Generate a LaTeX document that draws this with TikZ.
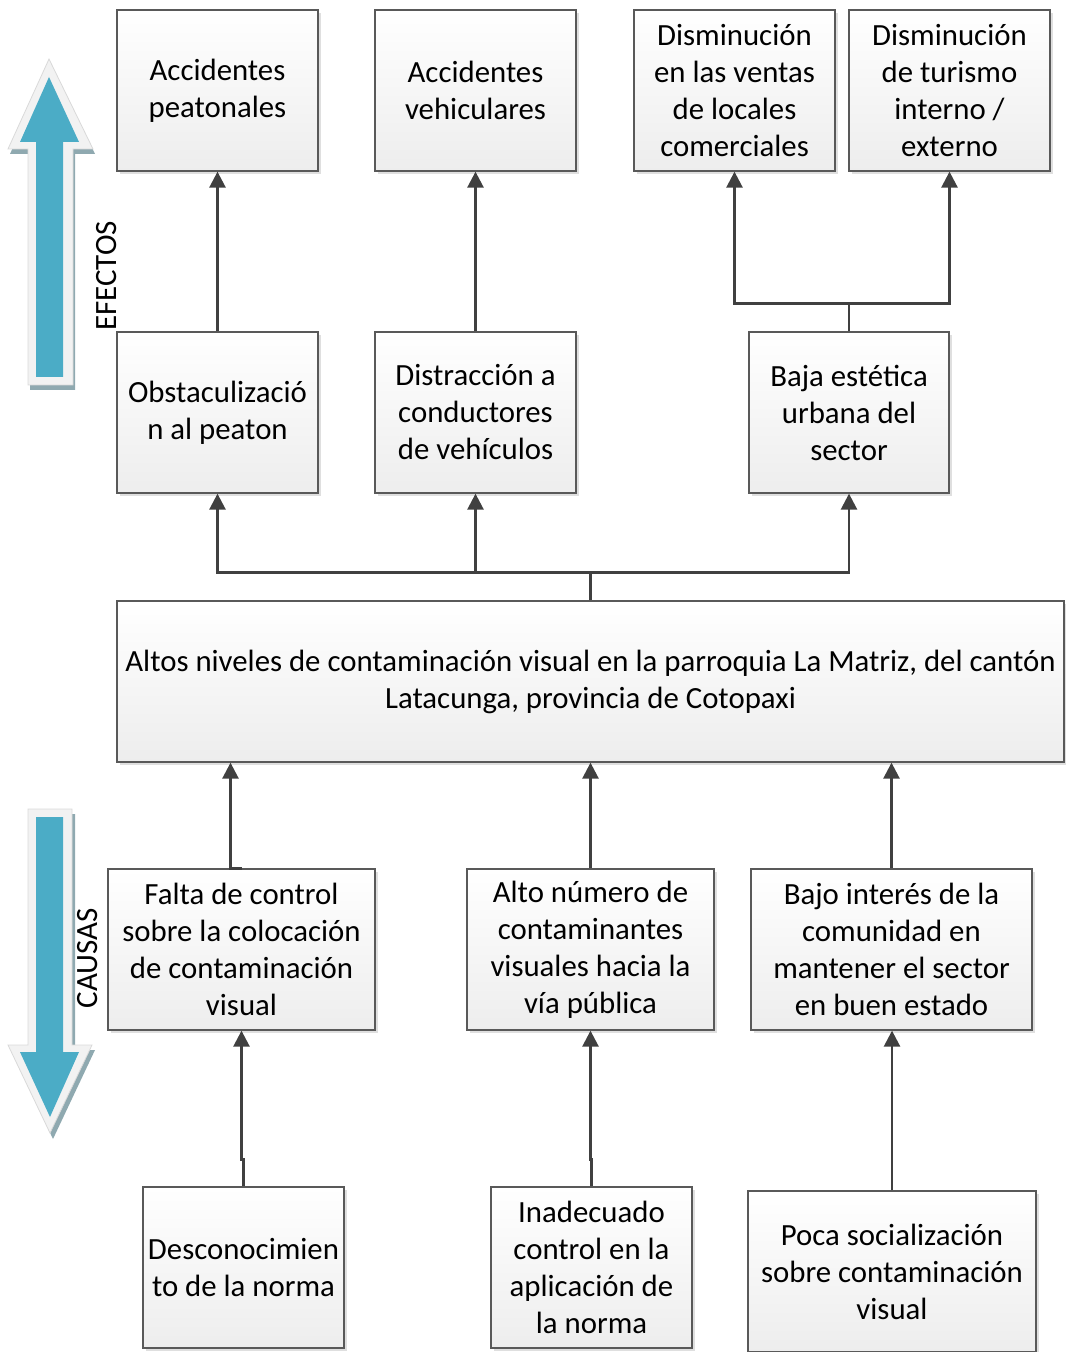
\documentclass[tikz,border=0pt]{standalone}
\usepackage{fontspec}
\setmainfont{Carlito}
\usetikzlibrary{arrows.meta,shadows}
\definecolor{linegray}{HTML}{404040}
\definecolor{boxline}{HTML}{595959}
\definecolor{aqua}{HTML}{4BACC6}
\definecolor{aquashadow}{HTML}{8FA9B0}
\definecolor{arrowrim}{HTML}{F2F2F2}
\begin{document}
\begin{tikzpicture}[x=0.5pt, y=-0.5pt,
    box/.style={draw=boxline, line width=0.65pt, rectangle, align=center, inner sep=2pt,
        top color=white, bottom color=black!7, minimum height=80.5pt,
        drop shadow={shadow xshift=1.5pt, shadow yshift=-1.5pt, fill=black!25, opacity=0.5},
        font=\fontsize{15.4pt}{18.5pt}\selectfont},
    link/.style={draw=linegray, line width=1.3pt},
    arr/.style={link, -{Triangle[length=8pt, width=8pt]}},
    side/.style={rotate=90, font=\fontsize{15.5pt}{17pt}\selectfont}]

    \useasboundingbox (0,0) rectangle (1065,1352);

    % Big arrows
    \fill[aquashadow] (51,64) -- (95,154) -- (75,154) -- (75,390) -- (30,390) -- (30,154) -- (10,154) -- cycle;
    \filldraw[fill=arrowrim, draw=black!15, line width=0.4pt] (49,59) -- (93,149) -- (73,149) -- (73,385) -- (28,385) -- (28,149) -- (8,149) -- cycle;
    \fill[aqua] (49,77) -- (79,142) -- (63,142) -- (63,377) -- (36,377) -- (36,142) -- (20,142) -- cycle;
    \fill[aquashadow] (31,814) -- (75,814) -- (75,1050) -- (95,1050) -- (53,1139) -- (11,1050) -- (31,1050) -- cycle;
    \filldraw[fill=arrowrim, draw=black!15, line width=0.4pt] (28,809) -- (72,809) -- (72,1045) -- (92,1045) -- (50,1133) -- (8,1045) -- (28,1045) -- cycle;
    \fill[aqua] (36,817) -- (63,817) -- (63,1052) -- (79,1052) -- (50,1117) -- (20,1052) -- (36,1052) -- cycle;

    % Nodes
    \node[side] (efectos) at (107,276) {EFECTOS};
    \node[side] (causas) at (88,958) {CAUSAS};

    \node[box, minimum width=100.5pt] (peat) at (217.5,90.5) {Accidentes\\peatonales};
    \node[box, minimum width=100.5pt] (veh) at (475.5,90.5) {Accidentes\\vehiculares};
    \node[box, minimum width=100.5pt] (ventas) at (734.5,90.5) {Disminución\\en las ventas\\de locales\\comerciales};
    \node[box, minimum width=100.5pt] (turismo) at (949.5,90.5) {Disminución\\de turismo\\interno /\\externo};

    \node[box, minimum width=100.5pt] (obst) at (217.5,412.5) {Obstaculizació\\n al peaton};
    \node[box, minimum width=100.5pt] (dist) at (475.5,412.5) {Distracción a\\conductores\\de vehículos};
    \node[box, minimum width=100pt] (baja) at (849,412.5) {Baja estética\\urbana del\\sector};

    \node[box, minimum width=473.5pt] (central) at (590.5,681.5) {Altos niveles de contaminación visual en la parroquia La Matriz, del cantón\\Latacunga, provincia de Cotopaxi};

    \node[box, minimum width=133.5pt] (falta) at (241.5,949.5) {Falta de control\\sobre la colocación\\de contaminación\\visual};
    \node[box, minimum width=123.5pt] (alto) at (590.5,949.5) {Alto número de\\contaminantes\\visuales hacia la\\vía pública};
    \node[box, minimum width=140.5pt] (bajo) at (891.5,949.5) {Bajo interés de la\\comunidad en\\mantener el sector\\en buen estado};

    \node[box, minimum width=100.5pt] (desc) at (243.5,1267.5) {Desconocimien\\to de la norma};
    \node[box, minimum width=100.5pt] (inad) at (591.5,1267.5) {Inadecuado\\control en la\\aplicación de\\la norma};
    \node[box, minimum width=144pt] (poca) at (892,1271.5) {Poca socialización\\sobre contaminación\\visual};

    % Arrows
    \draw[arr] (obst.north) -- (peat.south);
    \draw[arr] (dist.north) -- (veh.south);
    \draw[link] (baja.north) -- ++(0,-28) coordinate (bajabus);
    \draw[arr] (bajabus) -| (ventas.south);
    \draw[arr] (bajabus) -| (turismo.south);

    \draw[link] (central.north) -- ++(0,-28) coordinate (centralbus);
    \draw[arr] (centralbus) -| (obst.south);
    \draw[arr] (centralbus) -| (dist.south);
    \draw[arr] (centralbus) -| (baja.south);

    \coordinate (faltajog) at ([xshift=-5.5pt]falta.north);
    \draw[arr] (falta.north) -- (faltajog) -- (faltajog |- central.south);
    \draw[arr] (alto.north) -- (alto.north |- central.south);
    \draw[arr] (bajo.north) -- (bajo.north |- central.south);

    \draw[arr] (desc.north) -- ++(0,-27) -| (falta.south);
    \draw[arr] (inad.north) -- ++(0,-27) -| (alto.south);
    \draw[arr] (poca.north) -- (poca.north |- bajo.south);
\end{tikzpicture}
\end{document}
